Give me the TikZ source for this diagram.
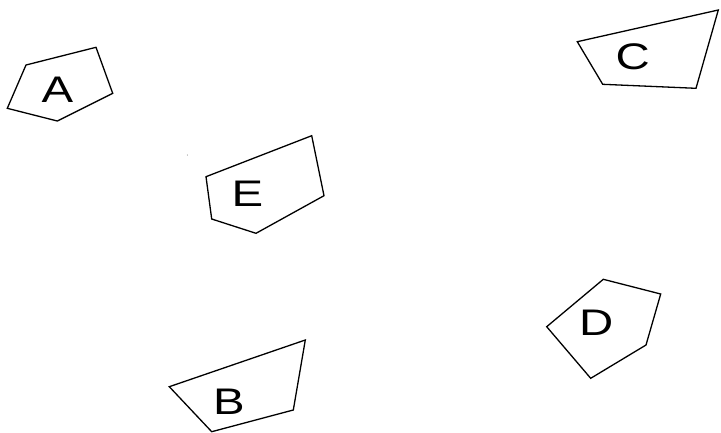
\documentclass[tikz,border=0pt]{standalone}
\usepackage{fontspec}
\setmainfont{Liberation Sans}
\begin{document}
\begin{tikzpicture}[x=1pt,y=-1pt,
  poly/.style={draw=black,line width=1.3pt,line join=miter},
  lbl/.style={inner sep=0pt,text depth=0pt,font=\fontsize{37}{37}\selectfont,xscale=1.28}]
\useasboundingbox (0,0) rectangle (721,432);
% A
\draw[poly] (26,65) -- (96,47.3) -- (112.7,93.3) -- (57.3,121) -- (7.3,108.3) -- cycle;
\node[lbl] (A) at (57.5,90) {A};
% C
\draw[poly] (577.3,41.7) -- (718.3,10) -- (696,88.3) -- (602.7,84.3) -- cycle;
\node[lbl] (C) at (632.8,56.5) {C};
% E
\draw[poly] (206,176.7) -- (311.7,135.7) -- (324,195.7) -- (256,233.3) -- (211.7,219) -- cycle;
\node[lbl] (E) at (247.5,193.3) {E};
% D
\draw[poly] (603.3,279.3) -- (660.7,294) -- (646,345) -- (590.7,378.3) -- (546.7,326.7) -- cycle;
\node[lbl] (D) at (596.3,322.5) {D};
% B
\draw[poly] (169.3,386.7) -- (305.3,340) -- (293.3,410) -- (211.7,431.7) -- cycle;
\node[lbl] (B) at (229,401.7) {B};
% stray dot
\fill[black!60] (187.3,155) circle (0.5);
\end{tikzpicture}
\end{document}
